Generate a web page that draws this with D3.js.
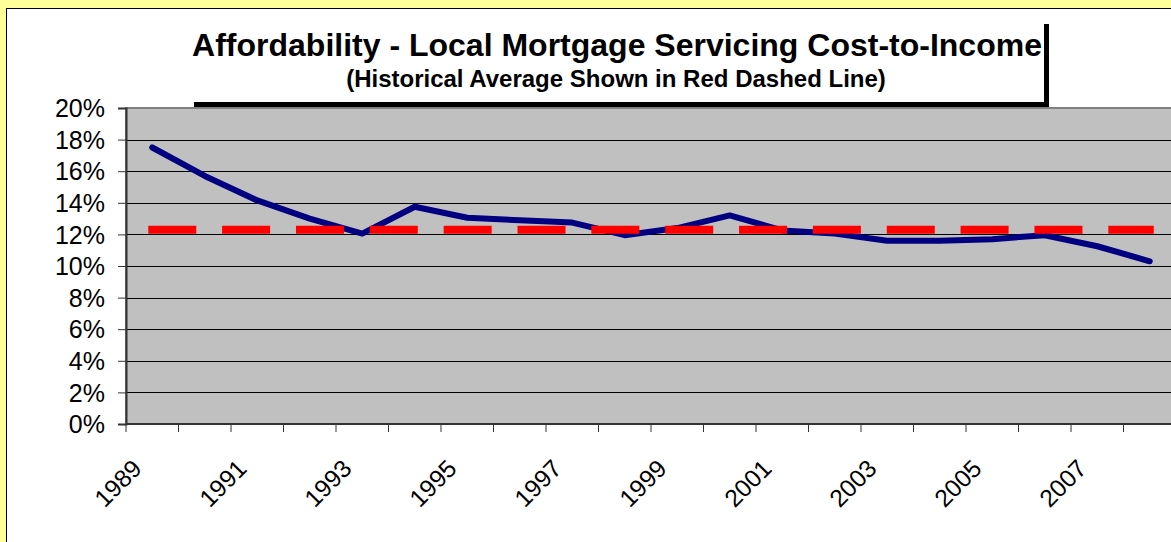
<!DOCTYPE html>
<html>
<head>
<meta charset="utf-8">
<script src="https://cdn.jsdelivr.net/npm/d3@7"></script>
<style>
  body { margin: 0; background: #ffff99; }
  svg { display: block; font-family: Arial, "Liberation Sans", sans-serif; }
</style>
</head>
<body>
<div id="chart"></div>
<script>
// Years on the category axis
const years = ["1989","1990","1991","1992","1993","1994","1995","1996","1997","1998",
               "1999","2000","2001","2002","2003","2004","2005","2006","2007","2008"];
// Mortgage servicing cost as a share of income (%)
const costToIncome = [17.5, 15.7, 14.15, 13.0, 12.05, 13.75, 13.05, 12.9, 12.75, 11.95,
                      12.4, 13.2, 12.25, 12.05, 11.6, 11.6, 11.7, 11.95, 11.25, 10.3];
// Historical average (%), drawn as a flat red dashed series
const historicalAverage = years.map(() => 12.3);
const yTicks = [0, 2, 4, 6, 8, 10, 12, 14, 16, 18, 20];
const labelYears = ["1989","1991","1993","1995","1997","1999","2001","2003","2005","2007"];

function drawChart() {
    const W = 1171, H = 542;
    const plot = { left: 126, right: 1176, top: 108, bottom: 424 };

    const svg = d3.select("#chart")
        .append("svg")
        .attr("width", W)
        .attr("height", H);

    // Outer yellow page and white chart area
    svg.append("rect").attr("width", W).attr("height", H).attr("fill", "#ffff99");
    svg.append("rect")
        .attr("x", 6.5).attr("y", 8.5)
        .attr("width", W + 20).attr("height", H + 20)
        .attr("fill", "#ffffff")
        .attr("stroke", "#000").attr("stroke-width", 1);

    // Title box with drop shadow
    svg.append("rect").attr("x", 194).attr("y", 24).attr("width", 855).attr("height", 84).attr("fill", "#000");
    svg.append("rect").attr("x", 188).attr("y", 18).attr("width", 856).attr("height", 84).attr("fill", "#fff");

    svg.append("text")
        .attr("x", 617).attr("y", 56)
        .attr("text-anchor", "middle")
        .style("font-size", "32px").style("font-weight", "bold")
        .text("Affordability - Local Mortgage Servicing Cost-to-Income");
    svg.append("text")
        .attr("x", 616).attr("y", 87)
        .attr("text-anchor", "middle")
        .style("font-size", "24px").style("font-weight", "bold")
        .text("(Historical Average Shown in Red Dashed Line)");

    // Scales
    const x = d3.scaleBand().domain(years).range([plot.left, plot.right]).padding(0);
    const cx = d => x(d) + x.bandwidth() / 2;
    const y = d3.scaleLinear().domain([0, 20]).range([plot.bottom, plot.top]);

    // Plot background
    svg.append("rect")
        .attr("x", plot.left).attr("y", plot.top)
        .attr("width", plot.right - plot.left).attr("height", plot.bottom - plot.top)
        .attr("fill", "#c0c0c0")
        .attr("stroke", "#808080").attr("stroke-width", 2);

    // Horizontal gridlines
    svg.append("g")
        .selectAll("line")
        .data(yTicks.filter(t => t > 0 && t < 20))
        .enter()
        .append("line")
        .attr("x1", plot.left).attr("x2", plot.right)
        .attr("y1", d => Math.round(y(d)) + 0.5).attr("y2", d => Math.round(y(d)) + 0.5)
        .attr("stroke", "#000").attr("stroke-width", 1);

    // Y axis
    const yAxis = svg.append("g")
        .attr("transform", `translate(${plot.left},0)`)
        .call(d3.axisLeft(y).tickValues(yTicks).tickSize(8).tickPadding(13)
            .tickFormat(d => d + "%"));
    yAxis.select(".domain").attr("stroke", "#333").attr("stroke-width", 2);
    yAxis.selectAll(".tick line").attr("stroke", "#333");
    yAxis.selectAll("text").style("font-size", "25px").attr("fill", "#000").attr("dy", "0.35em");

    // X axis line and boundary ticks
    svg.append("line")
        .attr("x1", plot.left).attr("x2", plot.right)
        .attr("y1", plot.bottom).attr("y2", plot.bottom)
        .attr("stroke", "#333").attr("stroke-width", 2);
    svg.append("g")
        .selectAll("line")
        .data(years.concat(["end"]))
        .enter()
        .append("line")
        .attr("x1", d => d === "end" ? plot.right : x(d))
        .attr("x2", d => d === "end" ? plot.right : x(d))
        .attr("y1", plot.bottom).attr("y2", plot.bottom + 8)
        .attr("stroke", "#333").attr("stroke-width", 1);

    // Rotated year labels
    svg.append("g")
        .selectAll("text")
        .data(labelYears)
        .enter()
        .append("text")
        .attr("text-anchor", "end")
        .attr("transform", d => `translate(${cx(d) - 9},${470}) rotate(-45)`)
        .style("font-size", "24.5px")
        .text(d => d);

    // Cost-to-income line
    const data = years.map((yr, i) => ({ yr, v: costToIncome[i], avg: historicalAverage[i] }));
    svg.append("path")
        .datum(data)
        .attr("fill", "none")
        .attr("stroke", "#000080")
        .attr("stroke-width", 6)
        .attr("stroke-linejoin", "round")
        .attr("stroke-linecap", "round")
        .attr("d", d3.line().x(d => cx(d.yr)).y(d => y(d.v)));

    // Historical average dashed line
    svg.append("path")
        .datum(data)
        .attr("fill", "none")
        .attr("stroke", "#ff0000")
        .attr("stroke-width", 8)
        .attr("stroke-linecap", "square")
        .attr("stroke-dasharray", "40,33.85")
        .attr("d", d3.line().x(d => cx(d.yr)).y(d => y(d.avg)));
}

drawChart();
</script>
</body>
</html>
